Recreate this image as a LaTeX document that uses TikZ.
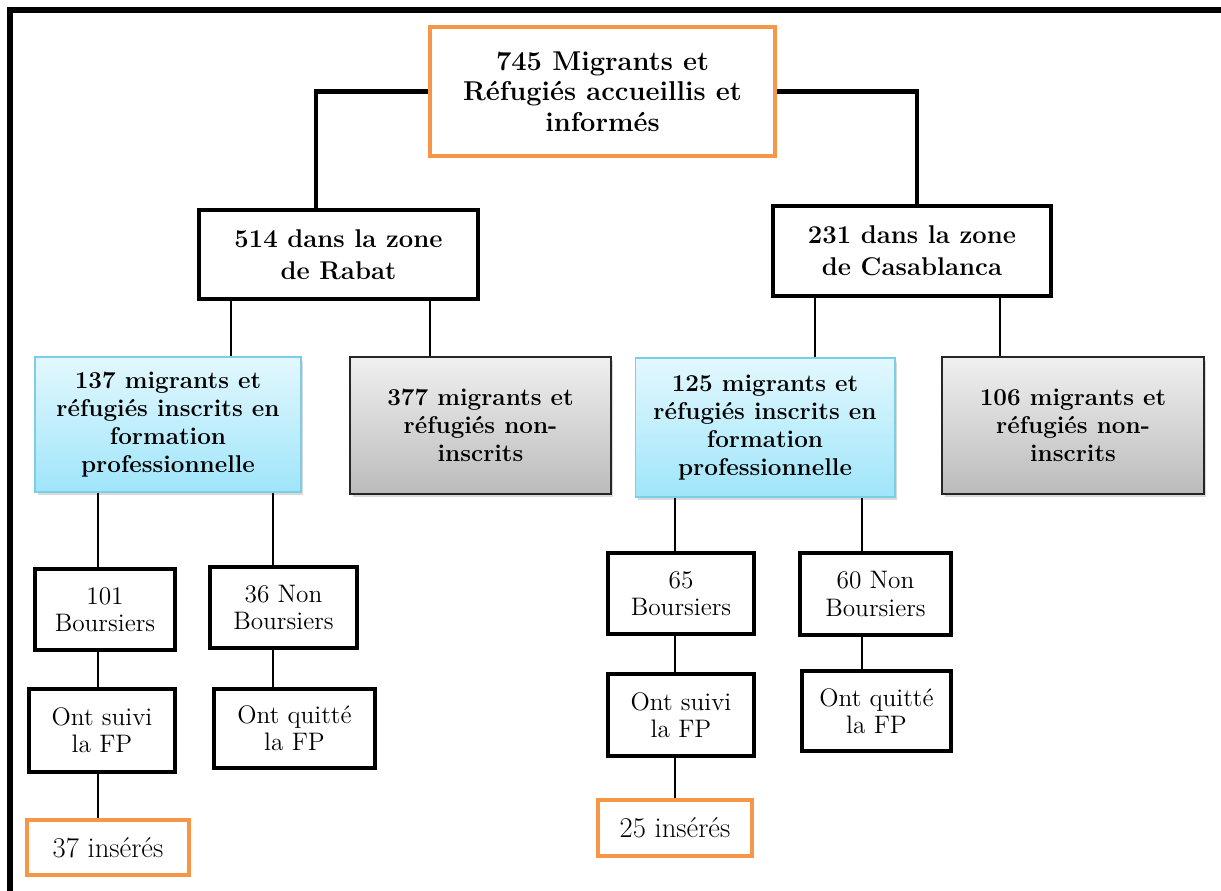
\documentclass[tikz,border=0pt]{standalone}
\usepackage{fontspec}
\usetikzlibrary{shadows}

\definecolor{orangeline}{HTML}{F79646}
\definecolor{bluetop}{HTML}{E3F8FE}
\definecolor{bluebot}{HTML}{9FE5FA}
\definecolor{blueline}{HTML}{7ACFE6}
\definecolor{greytop}{HTML}{F0F0F0}
\definecolor{greybot}{HTML}{BBBBBB}

\tikzset{
	orangebox/.style={draw=orangeline,line width=2.3pt,fill=white,align=center,inner sep=0pt},
	zonebox/.style={draw,line width=2.8pt,fill=white,align=center,inner sep=0pt,font=\bfseries\fontsize{14.6}{18}\selectfont},
	inscbox/.style={draw=blueline,line width=.6pt,top color=bluetop,bottom color=bluebot,align=center,inner sep=0pt,
		drop shadow={opacity=.3,shadow xshift=.05cm,shadow yshift=-.07cm},font=\bfseries\fontsize{13.8}{16}\selectfont},
	noninscbox/.style={draw=black!85,line width=.8pt,top color=greytop,bottom color=greybot,align=center,inner sep=0pt,
		drop shadow={opacity=.3,shadow xshift=.05cm,shadow yshift=-.07cm},font=\bfseries\fontsize{13.8}{16}\selectfont},
	smallbox/.style={draw,line width=2.3pt,fill=white,align=center,inner sep=0pt,font=\fontsize{14.4}{15.5}\selectfont},
	mainlink/.style={line width=2.8pt},
	link/.style={line width=.7pt}
}

\begin{document}
\begin{tikzpicture}[x=.02cm,y=-.02cm]
		\useasboundingbox (0,0) rectangle (1221,891);
		\draw[line width=3.4pt] (10,891) -- (10,10) -- (1221,10);

		\node[orangebox,minimum width=6.9cm,minimum height=2.58cm,font=\bfseries\fontsize{15.5}{17.5}\selectfont] (top) at (602.5,91.5) {745 Migrants et\\Réfugiés accueillis et\\informés};

		\node[zonebox,minimum width=5.58cm,minimum height=1.78cm] (rabat) at (338.5,254.5) {514 dans la zone\\de Rabat};
		\node[zonebox,minimum width=5.56cm,minimum height=1.8cm] (casa) at (912,251) {231 dans la zone\\de Casablanca};

		\draw[mainlink] (top.west) -| (316,0 |- rabat.north);
		\draw[mainlink] (top.east) -| (917,0 |- casa.north);

		\node[inscbox,minimum width=5.32cm,minimum height=2.7cm] (inscR) at (168,424.5) {137 migrants et\\réfugiés inscrits en\\formation\\professionnelle};
		\node[noninscbox,minimum width=5.22cm,minimum height=2.74cm] (nonR) at (480.5,425.5) {377 migrants et\\réfugiés non-\\inscrits};
		\node[inscbox,minimum width=5.2cm,minimum height=2.78cm] (inscC) at (765,427.5) {125 migrants et\\réfugiés inscrits en\\formation\\professionnelle};
		\node[noninscbox,minimum width=5.24cm,minimum height=2.74cm] (nonC) at (1073,425.5) {106 migrants et\\réfugiés non-\\inscrits};

		\draw[link] (231,0 |- rabat.south) -- (231,0 |- inscR.north);
		\draw[link] (430,0 |- rabat.south) -- (430,0 |- nonR.north);
		\draw[link] (815,0 |- casa.south) -- (815,0 |- inscC.north);
		\draw[link] (1000,0 |- casa.south) -- (1000,0 |- nonC.north);

		% Rabat
		\node[smallbox,minimum width=2.8cm,minimum height=1.62cm] (boursR) at (105,609.5) {101\\Boursiers};
		\node[smallbox,minimum width=2.94cm,minimum height=1.62cm] (nbR) at (283.5,607.5) {36 Non\\Boursiers};
		\node[smallbox,minimum width=2.92cm,minimum height=1.66cm] (suiviR) at (102,730.5) {Ont suivi\\la FP};
		\node[smallbox,minimum width=3.22cm,minimum height=1.58cm] (quitR) at (294.5,728.5) {Ont quitté\\la FP};
		\node[orangebox,minimum width=3.24cm,minimum height=1.1cm,font=\fontsize{16.3}{18}\selectfont] (insR) at (108,847.5) {37 insérés};

		\draw[link] (98,0 |- inscR.south) -- (98,0 |- boursR.north);
		\draw[link] (273,0 |- inscR.south) -- (273,0 |- nbR.north);
		\draw[link] (98,0 |- boursR.south) -- (98,0 |- suiviR.north);
		\draw[link] (273,0 |- nbR.south) -- (273,0 |- quitR.north);
		\draw[link] (98,0 |- suiviR.south) -- (98,0 |- insR.north);

		% Casablanca
		\node[smallbox,minimum width=2.92cm,minimum height=1.62cm] (boursC) at (681,593.5) {65\\Boursiers};
		\node[smallbox,minimum width=3.02cm,minimum height=1.64cm] (nbC) at (875.5,594) {60 Non\\Boursiers};
		\node[smallbox,minimum width=2.92cm,minimum height=1.64cm] (suiviC) at (681,715) {Ont suivi\\la FP};
		\node[smallbox,minimum width=2.98cm,minimum height=1.6cm] (quitC) at (876.5,711) {Ont quitté\\la FP};
		\node[orangebox,minimum width=3.08cm,minimum height=1.12cm,font=\fontsize{16.3}{18}\selectfont] (insC) at (675,828) {25 insérés};

		\draw[link] (675,0 |- inscC.south) -- (675,0 |- boursC.north);
		\draw[link] (862,0 |- inscC.south) -- (862,0 |- nbC.north);
		\draw[link] (675,0 |- boursC.south) -- (675,0 |- suiviC.north);
		\draw[link] (862,0 |- nbC.south) -- (862,0 |- quitC.north);
		\draw[link] (675,0 |- suiviC.south) -- (675,0 |- insC.north);

\end{tikzpicture}
\end{document}
